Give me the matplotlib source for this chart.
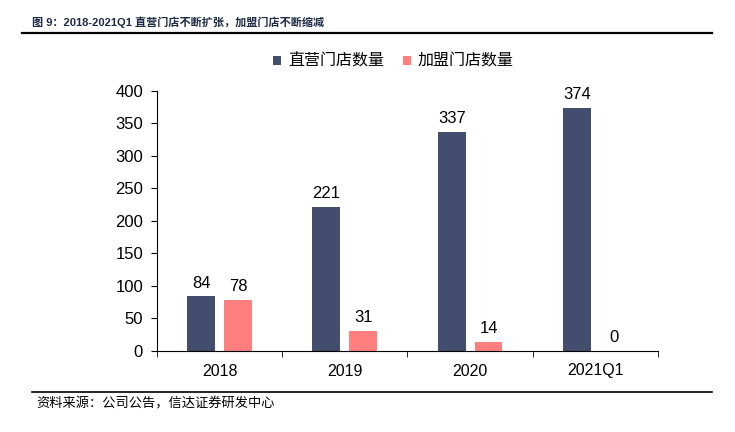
import matplotlib.pyplot as plt
import numpy as np
from matplotlib.lines import Line2D

plt.rcParams['font.family'] = ['Liberation Sans', 'Noto Sans CJK SC', 'DejaVu Sans']

# data
categories = ["2018", "2019", "2020", "2021Q1"]
direct = [84, 221, 337, 374]
franchise = [78, 31, 14, 0]

navy = "#434D6E"
pink = "#FF7F7F"

fig = plt.figure(figsize=(7.35, 4.32), dpi=100)
ax = fig.add_axes([0.2136, 0.1875, 0.6816, 0.6019])

x = np.arange(len(categories))
w = 0.223
off = 0.147
b1 = ax.bar(x - off, direct, w, color=navy, label="直营门店数量")
b2 = ax.bar(x + off, franchise, w, color=pink, label="加盟门店数量")

for r, v in zip(b1, direct):
    ax.text(r.get_x() + r.get_width() / 2, v + 9, str(v), ha="center", va="bottom", fontsize=12)
for r, v in zip(b2, franchise):
    ax.text(r.get_x() + r.get_width() / 2, v + 9, str(v), ha="center", va="bottom", fontsize=12)

ax.set_xlim(-0.5, len(categories) - 0.5)
ax.set_ylim(0, 400)
ax.set_yticks(range(0, 401, 50))
ax.set_xticks(x)
ax.set_xticklabels(categories)
ax.set_xticks(np.arange(-0.5, len(categories), 1), minor=True)
ax.tick_params(axis="x", which="major", length=0, pad=9, labelsize=11.5)
ax.tick_params(axis="x", which="minor", length=4, direction="out")
ax.tick_params(axis="y", length=4, direction="out", labelsize=12, pad=6)
ax.spines["top"].set_visible(False)
ax.spines["right"].set_visible(False)

ax.legend(loc="lower center", bbox_to_anchor=(0.472, 1.03), ncol=2, frameon=False,
          fontsize=11.5, handlelength=0.5, handleheight=0.5, handletextpad=0.4, columnspacing=1.2)

# title and source
fig.text(32 / 735, 1 - 22 / 432, "图 9：2018-2021Q1 直营门店不断扩张，加盟门店不断缩减",
         fontsize=8, fontweight="bold", color="#1F2A44", va="center")
fig.add_artist(Line2D([22 / 735, 712 / 735], [1 - 33 / 432, 1 - 33 / 432], color="black", lw=1.6))
fig.add_artist(Line2D([32 / 735, 712 / 735], [1 - 392 / 432, 1 - 392 / 432], color="black", lw=1.2))
fig.text(36 / 735, 1 - 404 / 432, "资料来源：公司公告，信达证券研发中心",
         fontsize=9.5, style="italic", va="center")

fig.savefig("out.png", dpi=100)
